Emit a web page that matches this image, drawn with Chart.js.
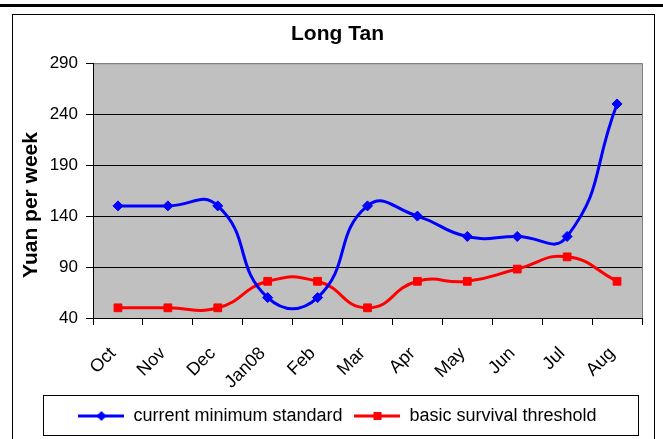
<!DOCTYPE html>
<html>
<head>
<meta charset="utf-8">
<script src="https://cdn.jsdelivr.net/npm/chart.js@4/dist/chart.umd.min.js"></script>
<style>
  html, body { margin: 0; padding: 0; background: #fff; }
  #wrap { width: 663px; height: 439px; }
</style>
</head>
<body>
<div id="wrap"><canvas id="chart" width="663" height="439"></canvas></div>
<script>
"use strict";

const months = ['Oct', 'Nov', 'Dec', 'Jan08', 'Feb', 'Mar', 'Apr', 'May', 'Jun', 'Jul', 'Aug'];
const currentMinimum = [150, 150, 150, 60, 60, 150, 140, 120, 120, 120, 250];
const survivalThreshold = [50, 50, 50, 76, 76, 50, 76, 76, 88, 100, 76];
const yMin = 40;
const yMax = 290;
const yStep = 50;
const yTitle = 'Yuan per week';

const FONT = "'Liberation Sans', Arial, sans-serif";

// small line + marker pictures for the legend (Excel style)
function legendIcon(color, shape) {
  const c = document.createElement('canvas');
  c.width = 46;
  c.height = 12;
  const g = c.getContext('2d');
  g.strokeStyle = color;
  g.lineWidth = 3;
  g.beginPath();
  g.moveTo(0, 6);
  g.lineTo(46, 6);
  g.stroke();
  g.fillStyle = color;
  g.beginPath();
  if (shape === 'diamond') {
    g.moveTo(23, 1); g.lineTo(28, 6); g.lineTo(23, 11); g.lineTo(18, 6);
  } else {
    g.rect(19, 2, 8, 8);
  }
  g.closePath();
  g.fill();
  return c;
}

const frame = {
  id: 'frame',
  beforeDraw(chart) {
    const ctx = chart.ctx;
    const a = chart.chartArea;
    ctx.save();
    // thick rule at the top of the page
    ctx.fillStyle = '#000';
    ctx.fillRect(0, 4, 663, 3);
    // outer chart border
    ctx.strokeStyle = '#000';
    ctx.lineWidth = 1;
    ctx.strokeRect(12.5, 14.5, 642, 440);
    // plot area
    ctx.fillStyle = '#c0c0c0';
    ctx.fillRect(a.left, a.top, a.right - a.left, a.bottom - a.top);
    ctx.strokeStyle = '#808080';
    ctx.strokeRect(a.left + 0.5, a.top + 0.5, a.right - a.left, a.bottom - a.top);
    // legend box
    const lg = chart.legend;
    ctx.strokeStyle = '#000';
    ctx.strokeRect(43.5, lg.top + 0.5, 595, lg.bottom - lg.top);
    // y axis title, sitting a little low like the Excel original
    ctx.translate(31, 205);
    ctx.rotate(-Math.PI / 2);
    ctx.fillStyle = '#000';
    ctx.font = 'bold 21px ' + FONT;
    ctx.textAlign = 'center';
    ctx.textBaseline = 'middle';
    ctx.fillText(yTitle, 0, 0);
    ctx.restore();
  }
};

new Chart(document.getElementById('chart'), {
  type: 'line',
  data: {
    labels: months,
    datasets: [{
      label: 'current minimum standard',
      data: currentMinimum,
      borderColor: '#0000ff',
      backgroundColor: '#0000ff',
      borderWidth: 3,
      pointStyle: 'rectRot',
      pointRadius: 5,
      pointBorderWidth: 1,
      tension: 0.5
    }, {
      label: 'basic survival threshold',
      data: survivalThreshold,
      borderColor: '#ff0000',
      backgroundColor: '#ff0000',
      borderWidth: 3,
      pointStyle: 'rect',
      pointRadius: 5.5,
      pointBorderWidth: 1,
      tension: 0.5
    }]
  },
  options: {
    responsive: false,
    animation: false,
    events: [],
    layout: { padding: { top: 14, left: 20, right: 8, bottom: 4 } },
    plugins: {
      title: {
        display: true,
        text: 'Long Tan',
        color: '#000',
        font: { family: FONT, size: 21, weight: 'bold' },
        padding: { top: 8, bottom: 16 }
      },
      legend: {
        position: 'bottom',
        labels: {
          color: '#000',
          font: { family: FONT, size: 18 },
          usePointStyle: true,
          pointStyleWidth: 46,
          padding: 12,
          generateLabels(chart) {
            return chart.data.datasets.map((ds, i) => ({
              text: ds.label,
              fontColor: '#000',
              pointStyle: legendIcon(ds.borderColor, i === 0 ? 'diamond' : 'square'),
              datasetIndex: i,
              lineWidth: 0
            }));
          }
        }
      },
      tooltip: { enabled: false }
    },
    scales: {
      x: {
        offset: true,
        grid: { display: true, offset: true, drawOnChartArea: false, color: '#000', tickLength: 7 },
        border: { color: '#000', width: 1 },
        ticks: {
          color: '#000',
          font: { family: FONT, size: 18 },
          maxRotation: 45,
          minRotation: 45,
          padding: 18,
          labelOffset: -5,
          autoSkip: false
        },
        afterFit(scale) { scale.height = 77; }
      },
      y: {
        min: yMin,
        max: yMax,
        grid: {
          color: (c) => (c.tick && c.tick.value === yMax ? '#808080' : '#000'),
          tickColor: '#000',
          tickLength: 7
        },
        border: { color: '#000', width: 1 },
        ticks: {
          stepSize: yStep,
          color: '#000',
          font: { family: FONT, size: 17 },
          padding: 8
        },
        afterFit(scale) { scale.width = 73; }
      },
      y2: {
        position: 'right',
        display: true,
        grid: { display: false },
        border: { display: false },
        ticks: { display: false },
        afterFit(scale) { scale.width = 13; }
      }
    }
  },
  plugins: [frame]
});
</script>
</body>
</html>
